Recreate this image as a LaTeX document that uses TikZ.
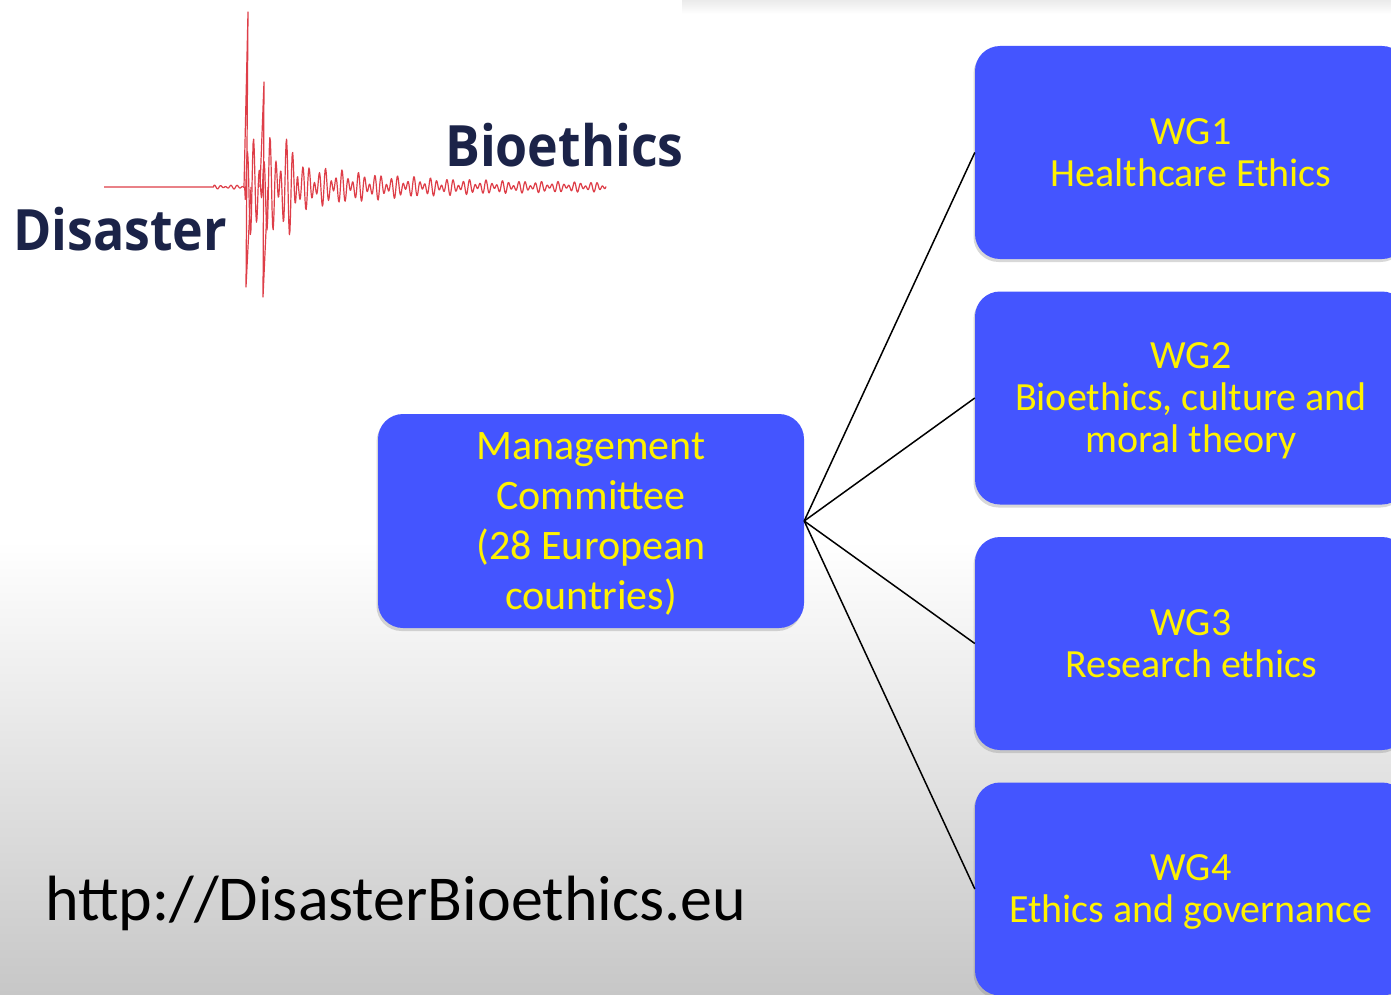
\documentclass[tikz,border=0pt]{standalone}
\usepackage{fontspec}
\setmainfont{Carlito}
\newfontfamily\logofont{Open Sans}
\usetikzlibrary{shadows}
\definecolor{wgblue}{RGB}{68,85,255}
\definecolor{logonavy}{RGB}{27,35,72}
\definecolor{quakered}{RGB}{222,62,72}
\begin{document}
\begin{tikzpicture}[x=1pt, y=-1pt,
    box/.style={rounded corners=25pt, fill=wgblue, text=yellow, align=center, inner sep=0pt, text depth=0pt,
        drop shadow={shadow xshift=-1.5pt, shadow yshift=-3pt, opacity=0.3}},
    wgbox/.style={box, minimum width=432pt, minimum height=213pt, font=\fontsize{40}{42}\selectfont},
    logo/.style={anchor=base west, inner sep=0pt, text=logonavy, font=\logofont\bfseries\fontsize{57}{57}\selectfont},
    quake/.style={quakered, line width=1.2pt, line join=round},
    declare function={env(\t)=(\t>214)*2+(\t>245)*(\t<298)*48+(\t>=298)*(2+20*exp(-(\t-300)/100));
        wob(\t)=0.6*sin(65*mod(\t,72))+0.4*sin(45*mod(\t,8));}]
    \useasboundingbox (0,0) rectangle (1391,995);
    \fill[white] (0,0) rectangle (1391,995);
    \shade[top color=black!8, bottom color=white] (682,0) rectangle (1391,14);
    \shade[top color=white, bottom color=black!22] (0,540) rectangle (1391,995);

    \draw[quake] plot[domain=104:606, samples=900] (\x, {187+env(\x)*wob(\x)});
    \draw[quake] (244,187) -- (248,12) -- (246,287) -- (251,187);
    \draw[quake] (260,187) -- (264,82) -- (263,297) -- (268,187);

    \node[logo] (disaster) at (13,250) {\scalebox{0.91}[1]{Disaster}};
    \node[logo] (bioethics) at (445,167) {\scalebox{0.91}[1]{Bioethics}};

    \node[box, minimum width=426pt, minimum height=214pt, font=\fontsize{42}{50}\selectfont] (mc) at (591,521) {Management\\Committee\\(28 European\\countries)};

    \node[wgbox] (wg1) at (1191,152.5) {WG1\\Healthcare Ethics};
    \node[wgbox] (wg2) at (1191,398) {WG2\\Bioethics, culture and\\moral theory};
    \node[wgbox] (wg3) at (1191,643.5) {WG3\\Research ethics};
    \node[wgbox] (wg4) at (1191,889) {WG4\\Ethics and governance};

    \draw[line width=1.5pt] (mc.east) -- (wg1.west);
    \draw[line width=1.5pt] (mc.east) -- (wg2.west);
    \draw[line width=1.5pt] (mc.east) -- (wg3.west);
    \draw[line width=1.5pt] (mc.east) -- (wg4.west);

    \node[anchor=base west, inner sep=0pt, font=\fontsize{64}{64}\selectfont] (url) at (45,920) {http://DisasterBioethics.eu};
\end{tikzpicture}
\end{document}
